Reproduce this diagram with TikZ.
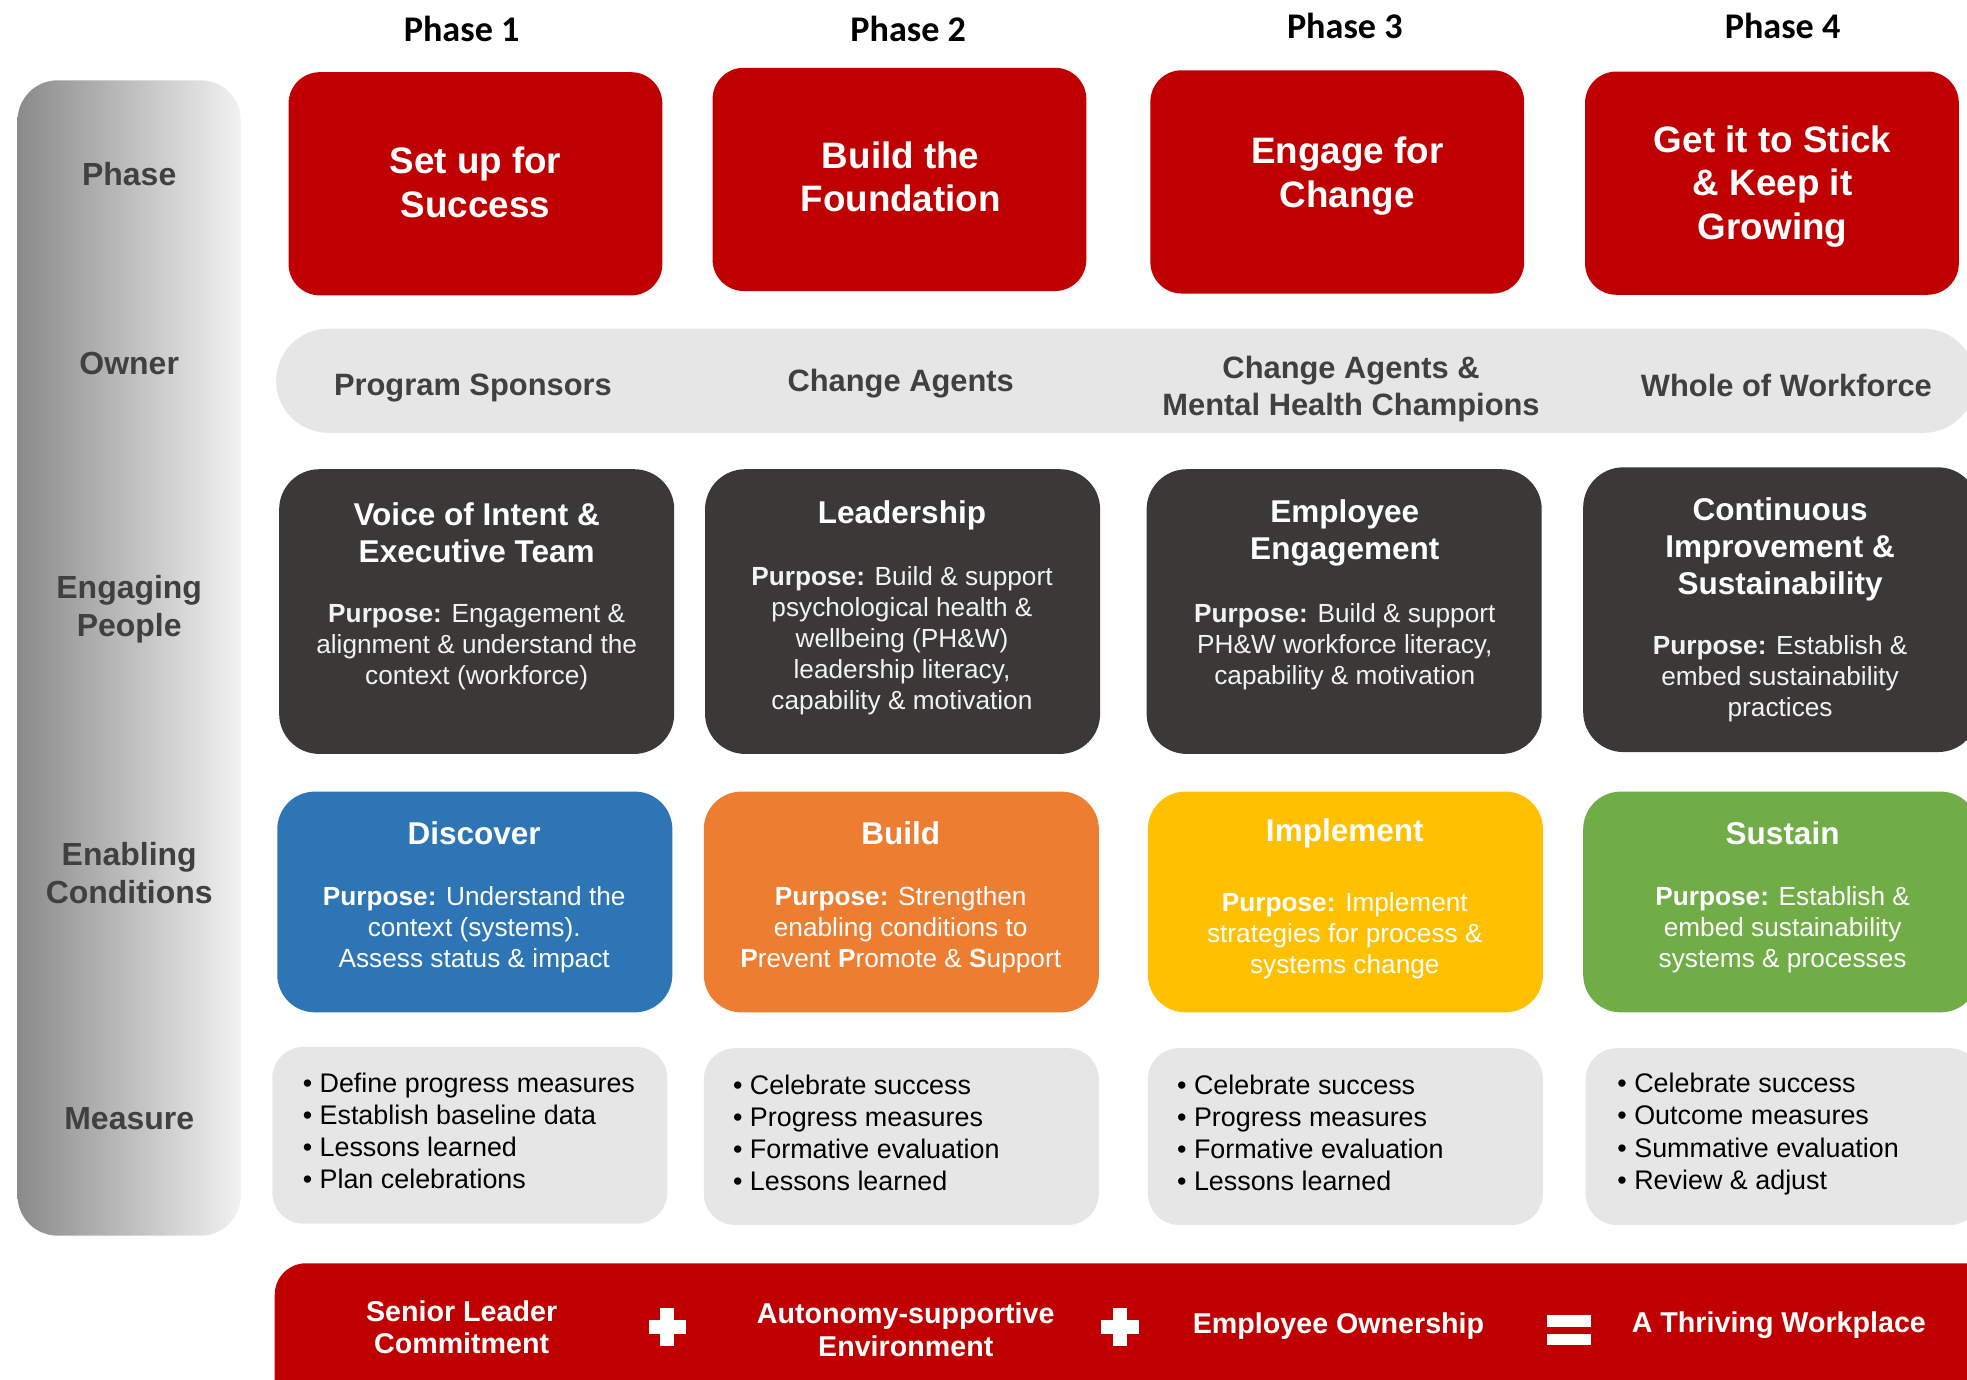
\documentclass[tikz,border=0pt]{standalone}
\usepackage{fontspec}
\setmainfont{Liberation Sans}
\newfontfamily\calibri{Carlito}
\usetikzlibrary{positioning}
\definecolor{phasered}{RGB}{192,0,0}
\definecolor{darkbox}{RGB}{59,56,56}
\definecolor{lightbox}{RGB}{230,230,230}
\definecolor{labelgray}{RGB}{64,64,64}
\definecolor{barleft}{RGB}{138,138,138}
\definecolor{barright}{RGB}{242,242,242}
\definecolor{discblue}{RGB}{46,117,182}
\definecolor{buildorange}{RGB}{237,125,49}
\definecolor{implyellow}{RGB}{255,192,0}
\definecolor{sustgreen}{RGB}{112,173,71}
\newcommand{\Purp}{\textbf{Purpose:}}
% white plus / equals marks on the bottom bar
\newcommand{\plusmark}[2]{%
  \fill[white] (#1-15,#2-5.5) rectangle (#1+15,#2+5.5);
  \fill[white] (#1-5.5,#2-15) rectangle (#1+5.5,#2+15);}
\newcommand{\eqmark}[2]{%
  \fill[white] (#1-17.5,#2-10) rectangle (#1+17.5,#2-0.5);
  \fill[white] (#1-17.5,#2+5) rectangle (#1+17.5,#2+14.5);}

\begin{document}
\begin{tikzpicture}[x=0.02cm, y=-0.02cm,
  phasehead/.style={font=\calibri\fontsize{16.4}{19}\selectfont\bfseries},
  rowlabel/.style={text=labelgray, align=center, yshift=-0.05cm, font=\fontsize{14.5}{17}\selectfont\bfseries},
  phasebox/.style={fill=phasered, rounded corners=0.5cm, minimum width=5.96cm, minimum height=3.56cm, inner sep=0},
  phasetext/.style={text=white, align=center, yshift=-0.05cm, font=\fontsize{16.7}{19.7}\selectfont\bfseries},
  ownertext/.style={text=labelgray, align=center, yshift=-0.05cm, font=\fontsize{14}{16.6}\selectfont\bfseries},
  peoplebox/.style={fill=darkbox, rounded corners=0.64cm, minimum width=6.3cm, minimum height=4.54cm, inner sep=0},
  condbox/.style={rounded corners=0.6cm, minimum width=6.3cm, minimum height=3.52cm, inner sep=0},
  measbox/.style={fill=lightbox, rounded corners=0.5cm, minimum width=6.3cm, minimum height=2.82cm, inner sep=0},
  boxtitle/.style={text=white, align=center, yshift=-0.05cm, font=\fontsize{14.3}{16.8}\selectfont\bfseries},
  purptext/.style={text=white, align=center, yshift=-0.05cm, font=\fontsize{11.9}{14.05}\selectfont},
  bullets/.style={anchor=west, align=left, inner sep=0, font=\fontsize{12.2}{14.6}\selectfont},
  bartext/.style={text=white, align=center, font=\fontsize{13}{14.8}\selectfont\bfseries}
]
\useasboundingbox (0,0) rectangle (1568,1100);
\clip (0,0) rectangle (1568,1100);

% left column with row labels
\shade[left color=barleft, right color=barright, rounded corners=0.64cm] (14,64) rectangle (192,985);
\node[rowlabel] (lphase) at (103,136) {Phase};
\node[rowlabel] (lowner) at (103,287) {Owner};
\node[rowlabel] (lpeople) at (103,483) {Engaging\\People};
\node[rowlabel] (lcond) at (103,693.5) {Enabling\\Conditions};
\node[rowlabel] (lmeas) at (103,889) {Measure};

% phase headings
\node[phasehead] (h1) at (368,23) {Phase 1};
\node[phasehead] (h2) at (724,23) {Phase 2};
\node[phasehead] (h3) at (1072,21) {Phase 3};
\node[phasehead] (h4) at (1421,21) {Phase 4};

% phase boxes
\node[phasebox] (ph1) at (379,146.5) {};
\node[phasebox] (ph2) at (717,143) {};
\node[phasebox] (ph3) at (1066,145) {};
\node[phasebox] (ph4) at (1412.5,146) {};
\node[phasetext] (ph1t) at (379,143) {Set up for\\Success};
\node[phasetext] (ph2t) at (718,138.5) {Build the\\Foundation};
\node[phasetext] (ph3t) at (1074,138) {Engage for\\Change};
\node[phasetext] (ph4t) at (1413,146) {Get it to Stick\\\& Keep it\\Growing};

% owner band
\node[fill=lightbox, rounded corners=0.83cm, minimum width=27.1cm, minimum height=1.66cm, inner sep=0] (owner) at (897.5,303.5) {};
\node[ownertext] (ow1) at (377,307) {Program Sponsors};
\node[ownertext] (ow2) at (718,303) {Change Agents};
\node[ownertext] (ow3) at (1077,307.5) {Change Agents \&\\Mental Health Champions};
\node[ownertext] (ow4) at (1424,305) {Whole of Workforce};

% engaging people
\node[peoplebox] (pp1) at (380,487.5) {};
\node[peoplebox] (pp2) at (719.5,487.5) {};
\node[peoplebox] (pp3) at (1071.5,487.5) {};
\node[peoplebox] (pp4) at (1419.5,486) {};
\node[boxtitle] (pp1t) at (380,422.5) {Voice of Intent \&\\Executive Team};
\node[boxtitle] (pp2t) at (719,408) {Leadership};
\node[boxtitle] (pp3t) at (1072,422.5) {Employee\\Engagement};
\node[boxtitle] (pp4t) at (1419,435.5) {Continuous\\Improvement \&\\Sustainability};
\node[purptext, text=white!95!black] (pp1p) at (380,513) {\Purp{} Engagement \&\\alignment \& understand the\\context (workforce)};
\node[purptext, text=white!95!black] (pp2p) at (719,508) {\Purp{} Build \& support\\psychological health \&\\wellbeing (PH\&W)\\leadership literacy,\\capability \& motivation};
\node[purptext, text=white!95!black] (pp3p) at (1072,513) {\Purp{} Build \& support\\PH\&W workforce literacy,\\capability \& motivation};
\node[purptext, text=white!95!black] (pp4p) at (1419,538.5) {\Purp{} Establish \&\\embed sustainability\\practices};

% enabling conditions
\node[condbox, fill=discblue] (ec1) at (378.5,719) {};
\node[condbox, fill=buildorange] (ec2) at (718.5,719) {};
\node[condbox, fill=implyellow] (ec3) at (1072.5,719) {};
\node[condbox, fill=sustgreen] (ec4) at (1419.5,719) {};
\node[boxtitle] (ec1t) at (378,662) {Discover};
\node[boxtitle] (ec2t) at (718,662) {Build};
\node[boxtitle] (ec3t) at (1072,662) {Implement};
\node[boxtitle] (ec4t) at (1421,662) {Sustain};
\node[purptext] (ec1p) at (378,738.5) {\Purp{} Understand the\\context (systems).\\Assess status \& impact};
\node[purptext] (ec2p) at (718,738.5) {\Purp{} Strengthen\\enabling conditions to\\\textbf{P}revent \textbf{P}romote \& \textbf{S}upport};
\node[purptext] (ec3p) at (1072,743.5) {\Purp{} Implement\\strategies for process \&\\systems change};
\node[purptext] (ec4p) at (1421,738.5) {\Purp{} Establish \&\\embed sustainability\\systems \& processes};

% measures
\node[measbox] (ms1) at (374.5,905) {};
\node[measbox] (ms2) at (718.5,906) {};
\node[measbox] (ms3) at (1072.5,906) {};
\node[measbox] (ms4) at (1421.5,906) {};
\node[bullets] (ms1l) at (241,901.5) {\textbullet\ Define progress measures\\\textbullet\ Establish baseline data\\\textbullet\ Lessons learned\\\textbullet\ Plan celebrations};
\node[bullets] (ms2l) at (584,903) {\textbullet\ Celebrate success\\\textbullet\ Progress measures\\\textbullet\ Formative evaluation\\\textbullet\ Lessons learned};
\node[bullets] (ms3l) at (938,903) {\textbullet\ Celebrate success\\\textbullet\ Progress measures\\\textbullet\ Formative evaluation\\\textbullet\ Lessons learned};
\node[bullets] (ms4l) at (1289,904) {\textbullet\ Celebrate success\\\textbullet\ Outcome measures\\\textbullet\ Summative evaluation\\\textbullet\ Review \& adjust};

% bottom bar
\fill[phasered, rounded corners=0.5cm] (219,1007) rectangle (1640,1160);
\node[bartext] (b1) at (368,1058) {Senior Leader\\Commitment};
\node[bartext] (b2) at (722,1060) {Autonomy-supportive\\Environment};
\node[bartext] (b3) at (1067,1057) {Employee Ownership};
\node[bartext] (b4) at (1418,1056) {A Thriving Workplace};
\plusmark{532}{1058}
\plusmark{893}{1058}
\eqmark{1251}{1058}
\end{tikzpicture}
\end{document}
